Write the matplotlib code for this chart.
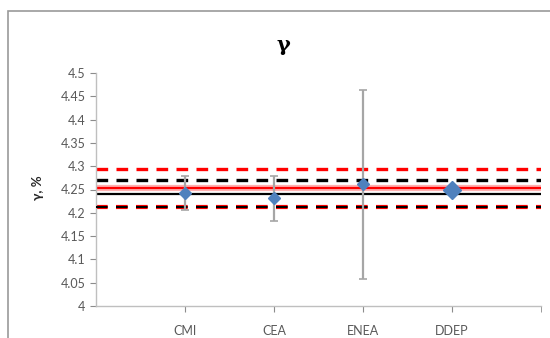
import matplotlib
matplotlib.use("Agg")
import matplotlib.pyplot as plt
from matplotlib.patches import Rectangle

# data
labs = ["CMI", "CEA", "ENEA", "DDEP"]
vals = [4.243, 4.231, 4.261, 4.248]
errs = [0.037, 0.049, 0.203, 0.0]

mean_red = 4.2525      # red solid line
mean_black = 4.240     # black solid line
red_hi, red_lo = 4.293, 4.2115
black_hi, black_lo = 4.270, 4.2115

yticks = [4.0, 4.05, 4.1, 4.15, 4.2, 4.25, 4.3, 4.35, 4.4, 4.45, 4.5]

plt.rcParams['font.family'] = ['Lato', 'DejaVu Sans']
plt.rcParams['lines.scale_dashes'] = False

fig = plt.figure(figsize=(5.5, 3.38), dpi=100)
# outer chart border (cut off at right and bottom like the screenshot)
fig.patches.append(Rectangle((8/550, -0.1), 1.1, 1 - 11/338 + 0.1, transform=fig.transFigure,
                             fill=False, edgecolor='#9a9a9a', lw=1.2))
ax = fig.add_axes([96/550, 1 - 306/338, 445/550, 233/338])

x = list(range(1, len(labs) + 1))
dash = (0, (8.4, 6.0))

# reference lines across the whole axis
ax.axhline(mean_red, color='#ffb0b0', lw=4.5, zorder=1)
ax.axhline(mean_red, color='red', lw=1.6, zorder=2)
ax.axhline(mean_black, color='black', lw=1.6, zorder=2)
ax.axhline(red_hi, color='red', lw=2.4, ls=dash, zorder=2)
ax.axhline(black_hi, color='black', lw=2.4, ls=dash, zorder=2)
ax.axhline(red_lo, color='red', lw=3.0, ls=dash, zorder=2)
ax.axhline(black_lo, color='black', lw=1.5, ls=dash, zorder=3)

ax.errorbar(x[:3], vals[:3], yerr=errs[:3], fmt='D', color='#4f81bd', ms=6.5,
            ecolor='#a6a6a6', elinewidth=1.6, capsize=3, capthick=1.2, zorder=4)
ax.plot(x[3], vals[3], 'D', color='#4f81bd', ms=9.5, zorder=4)

ax.set_xlim(0, 5)
ax.set_ylim(4.0, 4.5)
ax.set_xticks(x)
ax.set_xticklabels(labs)
ax.set_xticks([5], minor=True)
ax.set_yticks(yticks)
ax.set_yticklabels(['%g' % v for v in yticks])
ax.tick_params(colors='#8c8c8c', labelcolor='#595959', labelsize=9, length=4, width=0.8)
ax.tick_params(axis='x', which='both', pad=10)
ax.tick_params(axis='x', which='minor', length=4, color='#8c8c8c')
for s in ['top', 'right']:
    ax.spines[s].set_visible(False)
for s in ['left', 'bottom']:
    ax.spines[s].set_color('#bfbfbf')
    ax.spines[s].set_linewidth(1)

fig.text(283/550, 1 - 45/338, 'γ', ha='center', va='center', fontsize=15,
         fontweight='bold', family=['DejaVu Serif'])
fig.text(38/550, 1 - 188/338, 'γ, %', ha='center', va='center', rotation=90,
         fontsize=9.5, fontweight='bold', color='#262626')

fig.savefig('out.png', dpi=100)
